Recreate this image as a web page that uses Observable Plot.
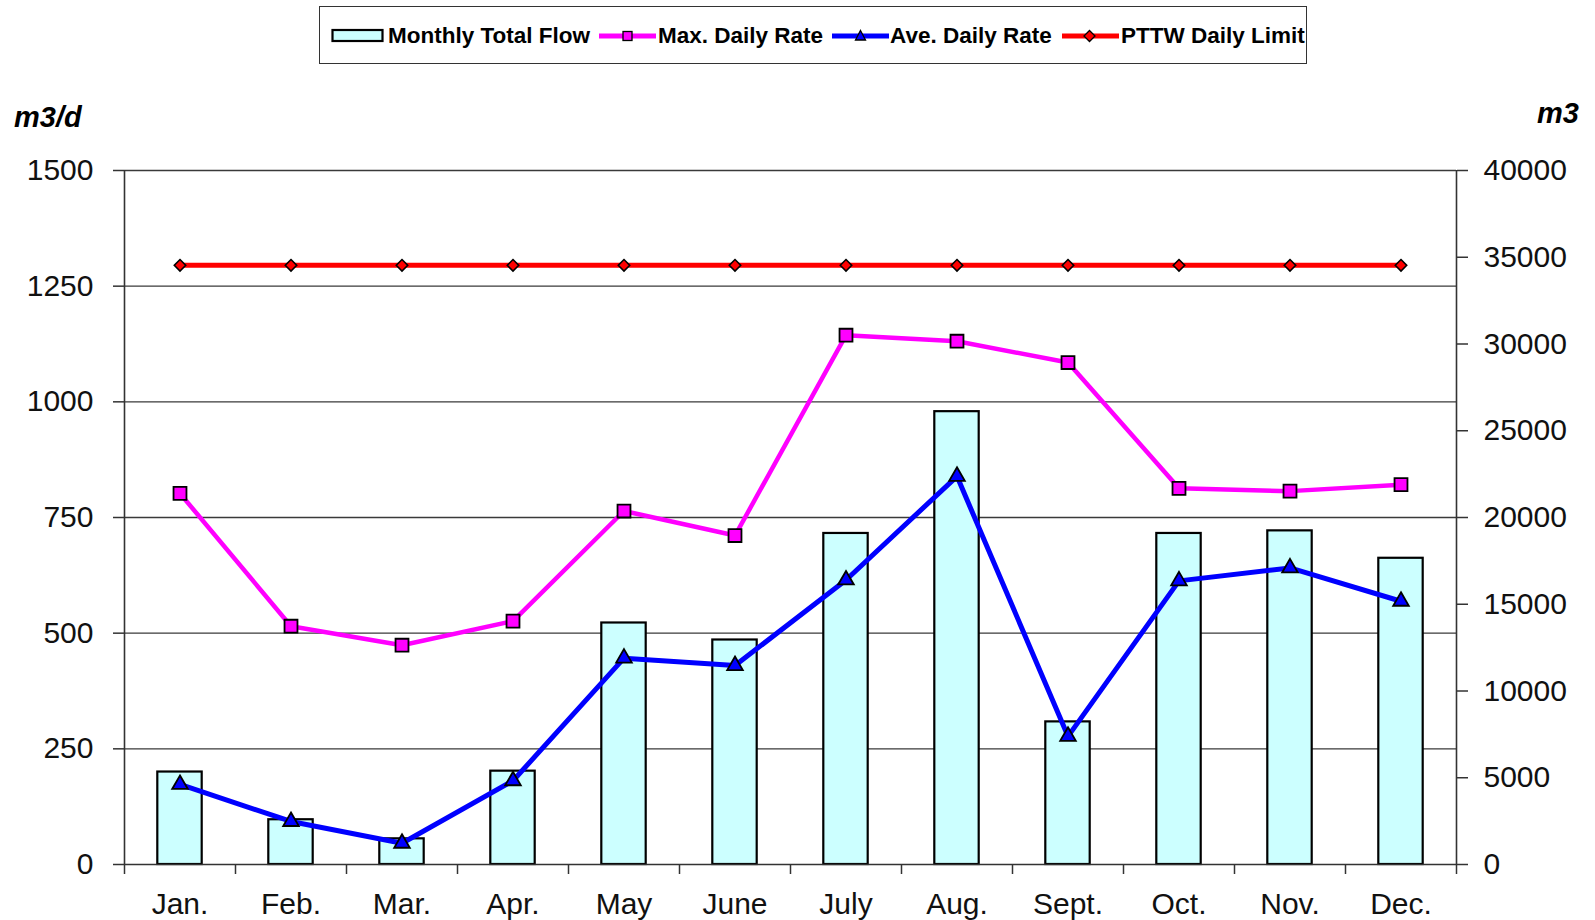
<!DOCTYPE html>
<html>
<head>
<meta charset="utf-8">
<script src="https://cdn.jsdelivr.net/npm/d3@7"></script>
<script src="https://cdn.jsdelivr.net/npm/@observablehq/plot@0.6"></script>
<style>
  html, body { margin: 0; padding: 0; background: #fff; }
  #wrap { position: relative; width: 1595px; height: 920px; font-family: "Liberation Sans", Arial, sans-serif; }
  #chart { position: absolute; left: 0; top: 0; }
  .legend { position: absolute; left: 319px; top: 6px; width: 988px; height: 58px; border: 1.5px solid #333; box-sizing: border-box; background: #fff; }
  .lg { position: absolute; font-weight: bold; font-size: 22.5px; color: #000; white-space: nowrap; line-height: 1; }
  .sw { position: absolute; }
  .unit { position: absolute; font-weight: bold; font-style: italic; font-size: 29px; color: #000; white-space: nowrap; line-height: 1; }
</style>
</head>
<body>
<div id="wrap">
  <div id="chart"></div>
  <div class="legend" id="legend"></div>
  <div class="unit" style="left:14px; top:103px;">m3/d</div>
  <div class="unit" style="left:1537px; top:99px;">m3</div>
</div>
<script>
// ---- data ----
const months = ["Jan.", "Feb.", "Mar.", "Apr.", "May", "June", "July", "Aug.", "Sept.", "Oct.", "Nov.", "Dec."];
const monthlyTotalFlow = [5330, 2580, 1480, 5380, 13920, 12940, 19080, 26100, 8220, 19080, 19230, 17650];
const maxDailyRate = [802, 515, 474, 526, 764, 711, 1144, 1131, 1085, 813, 807, 821];
const aveDailyRate = [173, 93, 46, 181, 446, 430, 615, 839, 277, 613, 641, 569];
const pttwDailyLimit = [1295, 1295, 1295, 1295, 1295, 1295, 1295, 1295, 1295, 1295, 1295, 1295];
const leftTicks = [0, 250, 500, 750, 1000, 1250, 1500];
const rightTicks = [0, 5000, 10000, 15000, 20000, 25000, 30000, 35000, 40000];
const seriesNames = ["Monthly Total Flow", "Max. Daily Rate", "Ave. Daily Rate", "PTTW Daily Limit"];

// right axis (m3) mapped onto the left scale (m3/d)
const leftMax = 1500, rightMax = 40000;
const k = leftMax / rightMax;

const rows = months.map((m, i) => ({
  i, month: m, xc: i + 0.5,
  total: monthlyTotalFlow[i] * k,
  max: maxDailyRate[i],
  ave: aveDailyRate[i],
  limit: pttwDailyLimit[i]
}));

const chart = Plot.plot({
  width: 1595,
  height: 920,
  marginLeft: 124,
  marginRight: 139,
  marginTop: 170,
  marginBottom: 56,
  x: { type: "linear", domain: [0, months.length], axis: null, label: null },
  y: { domain: [0, leftMax], axis: null, label: null },
  style: { fontFamily: "'Liberation Sans', Arial, sans-serif", fontSize: "30px", color: "#111", background: "#fff" },
  marks: [
    Plot.ruleY(leftTicks.slice(1), { stroke: "#3a3a3a", strokeWidth: 1.3 }),
    Plot.rect(rows, { x1: d => d.i + 0.3, x2: d => d.i + 0.7, y1: 0, y2: "total", fill: "#CCFFFF", stroke: "#000", strokeWidth: 2.2 }),
    Plot.ruleX([0, months.length], { stroke: "#333", strokeWidth: 1.6 }),
    Plot.ruleY([0], { stroke: "#333", strokeWidth: 1.6 }),
    Plot.axisY({ anchor: "left", label: null, ticks: leftTicks, tickFormat: d3.format("d"), tickSize: 11, tickPadding: 20, stroke: "#333", strokeWidth: 1.5, fontSize: 30 }),
    Plot.axisY({ anchor: "right", label: null, ticks: rightTicks.map(v => v * k), tickFormat: v => d3.format("d")(Math.round(v / k)), tickSize: 11, tickPadding: 16, stroke: "#333", strokeWidth: 1.5, fontSize: 30 }),
    Plot.axisX({ label: null, ticks: d3.range(months.length + 1), tickFormat: () => "", tickSize: 10, stroke: "#333", strokeWidth: 1.5 }),
    Plot.axisX({ label: null, ticks: d3.range(months.length).map(i => i + 0.5), tickFormat: v => months[Math.floor(v)], tickSize: 0, tickPadding: 28, fontSize: 30 }),
    Plot.lineY(rows, { x: "xc", y: "limit", stroke: "#FF0000", strokeWidth: 5 }),
    Plot.dot(rows, { x: "xc", y: "limit", symbol: "diamond2", r: 5.2, fill: "#FF0000", stroke: "#000", strokeWidth: 1.5 }),
    Plot.lineY(rows, { x: "xc", y: "max", stroke: "#FF00FF", strokeWidth: 4.5 }),
    Plot.dot(rows, { x: "xc", y: "max", symbol: "square", r: 7.3, fill: "#FF00FF", stroke: "#000", strokeWidth: 1.8 }),
    Plot.lineY(rows, { x: "xc", y: "ave", stroke: "#0000FF", strokeWidth: 5 }),
    Plot.dot(rows, { x: "xc", y: "ave", symbol: "triangle", r: 5.8, fill: "#0000FF", stroke: "#000", strokeWidth: 1.8 })
  ]
});
document.getElementById("chart").appendChild(chart);

// ---- legend ----
const lg = document.getElementById("legend");
function addText(txt, left) {
  const s = document.createElement("div");
  s.className = "lg"; s.textContent = txt;
  s.style.left = left + "px"; s.style.top = "18px";
  lg.appendChild(s);
}
function addSvg(left, w, inner) {
  const d = document.createElement("div");
  d.className = "sw"; d.style.left = left + "px"; d.style.top = "18px";
  d.innerHTML = `<svg width="${w}" height="22" viewBox="0 0 ${w} 22">${inner}</svg>`;
  lg.appendChild(d);
}
// offsets relative to legend box (box left = 319, top = 6)
addSvg(11, 54, `<rect x="1.5" y="5" width="50" height="11" fill="#CCFFFF" stroke="#000" stroke-width="2.2"/>`);
addText(seriesNames[0], 68);
addSvg(279, 57, `<line x1="0" x2="57" y1="11" y2="11" stroke="#FF00FF" stroke-width="5"/><rect x="24" y="6.5" width="9" height="9" fill="#FF00FF" stroke="#000" stroke-width="1.3"/>`);
addText(seriesNames[1], 338);
addSvg(512, 57, `<line x1="0" x2="57" y1="11" y2="11" stroke="#0000FF" stroke-width="5"/><path d="M28.5,5.5 L33.5,15 L23.5,15 Z" fill="#0000FF" stroke="#000" stroke-width="1.3"/>`);
addText(seriesNames[2], 570);
addSvg(742, 57, `<line x1="0" x2="57" y1="11" y2="11" stroke="#FF0000" stroke-width="5"/><path d="M27.5,5.5 L33,11 L27.5,16.5 L22,11 Z" fill="#FF0000" stroke="#000" stroke-width="1.3"/>`);
addText(seriesNames[3], 801);
</script>
</body>
</html>
